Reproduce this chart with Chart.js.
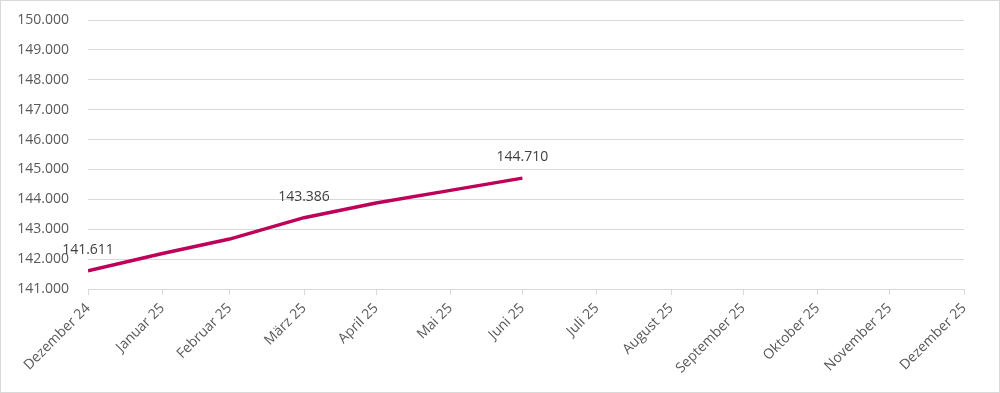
<!DOCTYPE html>
<html>
<head>
<meta charset="utf-8">
<script src="https://cdn.jsdelivr.net/npm/chart.js@4/dist/chart.umd.min.js"></script>
<style>
  html, body { margin: 0; padding: 0; background: #ffffff; }
  #wrap { width: 1000px; height: 393px; position: relative; }
</style>
</head>
<body>
<div id="wrap"><canvas id="c" width="1000" height="393"></canvas></div>
<script>
// ---- data ----
const categories = ["Dezember 24","Januar 25","Februar 25","März 25","April 25","Mai 25","Juni 25",
  "Juli 25","August 25","September 25","Oktober 25","November 25","Dezember 25"];
const values = [141611, 142190, 142670, 143386, 143875, 144300, 144710];
const labeledPoints = [0, 3, 6];
const yTicks = [141000, 142000, 143000, 144000, 145000, 146000, 147000, 148000, 149000, 150000];

// month-end dates (Dec 2024 .. Dec 2025) -> day offsets
const firstDate = new Date(2024, 12, 0);
const dayOffsets = categories.map((_, i) => Math.round((new Date(2024, 12 + i, 0) - firstDate) / 86400000));

function fmt(v) {
  return String(Math.round(v)).replace(/\B(?=(\d{3})+(?!\d))/g, ".");
}

const points = values.map((v, i) => ({ x: dayOffsets[i], y: v }));

const FONT = "'Open Sans', 'Liberation Sans', sans-serif";

const dataLabels = {
  id: 'dataLabels',
  afterDatasetsDraw(chart) {
    const ctx = chart.ctx;
    const meta = chart.getDatasetMeta(0);
    ctx.save();
    ctx.font = "14px " + FONT;
    ctx.fillStyle = "#404040";
    ctx.textAlign = "center";
    ctx.textBaseline = "middle";
    labeledPoints.forEach(i => {
      const el = meta.data[i];
      ctx.fillText(fmt(values[i]), el.x, el.y - 21);
    });
    ctx.restore();
  }
};

const frame = {
  id: 'frame',
  beforeDraw(chart) {
    const ctx = chart.ctx;
    ctx.save();
    ctx.fillStyle = "#ffffff";
    ctx.fillRect(0, 0, chart.width, chart.height);
    ctx.restore();
  },
  afterDraw(chart) {
    const ctx = chart.ctx;
    ctx.save();
    ctx.strokeStyle = "#d9d9d9";
    ctx.lineWidth = 1;
    ctx.strokeRect(0.5, 0.5, chart.width - 1, chart.height - 1);
    ctx.restore();
  }
};

new Chart(document.getElementById('c'), {
  type: 'line',
  data: {
    datasets: [{
      data: points,
      borderColor: "#BE0058",
      borderWidth: 3.5,
      pointRadius: 0,
      tension: 0,
      fill: false
    }]
  },
  options: {
    responsive: false,
    animation: false,
    devicePixelRatio: 1,
    layout: { padding: { top: 20, right: 36, bottom: 0, left: 0 } },
    plugins: { legend: { display: false }, tooltip: { enabled: false } },
    scales: {
      x: {
        type: 'linear',
        min: dayOffsets[0],
        max: dayOffsets[dayOffsets.length - 1],
        afterBuildTicks(scale) {
          scale.ticks = dayOffsets.map(v => ({ value: v }));
        },
        afterFit(scale) { scale.height = 104; },
        grid: {
          display: true,
          drawOnChartArea: false,
          drawTicks: true,
          tickLength: 6,
          color: "#d9d9d9"
        },
        border: { display: true, color: "#d9d9d9", width: 1 },
        ticks: {
          autoSkip: false,
          minRotation: 45,
          maxRotation: 45,
          padding: 5,
          color: "#595959",
          font: { family: FONT, size: 14 },
          callback: (v, i) => categories[i]
        }
      },
      y: {
        min: yTicks[0],
        max: yTicks[yTicks.length - 1],
        afterBuildTicks(scale) {
          scale.ticks = yTicks.map(v => ({ value: v }));
        },
        afterFit(scale) {
          scale.width = 88;
          scale.paddingTop = 8;
          scale.paddingBottom = 8;
        },
        grid: { color: "#d9d9d9", drawTicks: false, lineWidth: 1 },
        border: { display: false },
        ticks: {
          padding: 19,
          color: "#595959",
          font: { family: FONT, size: 14 },
          callback: v => fmt(v)
        }
      }
    }
  },
  plugins: [dataLabels, frame]
});
</script>
</body>
</html>
